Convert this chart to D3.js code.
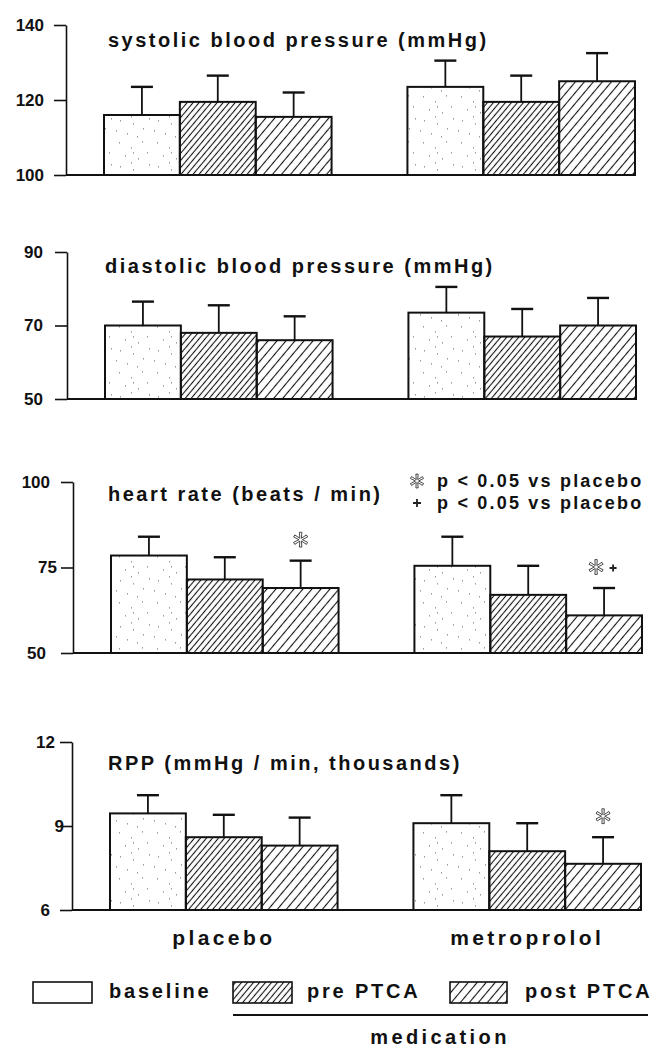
<!DOCTYPE html>
<html>
<head>
<meta charset="utf-8">
<script src="https://cdn.jsdelivr.net/npm/d3@7"></script>
<style>
  body { margin: 0; background: #fff; }
  text { font-family: "Liberation Sans", Arial, Helvetica, sans-serif; font-weight: bold; fill: #111; }
</style>
</head>
<body>
<svg id="chart" width="660" height="1048"></svg>
<script>
// ---- data -------------------------------------------------------------
const groups = ["placebo", "metroprolol"];
const phases = ["baseline", "pre PTCA", "post PTCA"];

const titles = [
  "systolic blood pressure (mmHg)",
  "diastolic blood pressure (mmHg)",
  "heart rate (beats / min)",
  "RPP (mmHg / min, thousands)"
];

// mean values per phase (baseline, pre PTCA, post PTCA)
const sysPlacebo  = [116, 119.5, 115.5];
const sysMetro    = [123.5, 119.5, 125];
const diaPlacebo  = [70, 68, 66];
const diaMetro    = [73.5, 67, 70];
const hrPlacebo   = [78.5, 71.5, 69];
const hrMetro     = [75.5, 67, 61];
const rppPlacebo  = [9.45, 8.6, 8.3];
const rppMetro    = [9.1, 8.1, 7.65];

// standard deviations (upper error bars)
const sysPlaceboSd = [7.5, 7, 6.5];
const sysMetroSd   = [7, 7, 7.5];
const diaPlaceboSd = [6.5, 7.5, 6.5];
const diaMetroSd   = [7, 7.5, 7.5];
const hrPlaceboSd  = [5.5, 6.5, 8];
const hrMetroSd    = [8.5, 8.5, 8];
const rppPlaceboSd = [0.65, 0.8, 1.0];
const rppMetroSd   = [1.0, 1.0, 0.95];

// axis ranges and tick labels
const yDomains = [[100, 140], [50, 90], [50, 100], [6, 12]];
const yTicks   = [[100, 120, 140], [50, 70, 90], [50, 75, 100], [6, 9, 12]];

// significance markers: panel index, group, phase, symbols
const sigMarks = [
  { panel: 2, group: "placebo",     phase: "post PTCA", star: true, plus: false },
  { panel: 2, group: "metroprolol", phase: "post PTCA", star: true, plus: true },
  { panel: 3, group: "metroprolol", phase: "post PTCA", star: true, plus: false }
];
const sigLegend = [
  { symbol: "star", text: "p < 0.05 vs placebo" },
  { symbol: "plus", text: "p < 0.05 vs placebo" }
];

const means = [
  { placebo: sysPlacebo, metroprolol: sysMetro },
  { placebo: diaPlacebo, metroprolol: diaMetro },
  { placebo: hrPlacebo,  metroprolol: hrMetro },
  { placebo: rppPlacebo, metroprolol: rppMetro }
];
const sds = [
  { placebo: sysPlaceboSd, metroprolol: sysMetroSd },
  { placebo: diaPlaceboSd, metroprolol: diaMetroSd },
  { placebo: hrPlaceboSd,  metroprolol: hrMetroSd },
  { placebo: rppPlaceboSd, metroprolol: rppMetroSd }
];

// ---- layout -----------------------------------------------------------
// labelEdge: right edge of each tick label (bottom, middle, top)
const frames = [
  { axisX: 66, top: 25,  bottom: 175, titleX: 108, titleY: 47,  labelEdge: [44, 44, 44] },
  { axisX: 67, top: 252, bottom: 399, titleX: 105, titleY: 273, labelEdge: [43, 43, 43] },
  { axisX: 73, top: 482, bottom: 653, titleX: 108, titleY: 501, labelEdge: [46, 57, 50] },
  { axisX: 72, top: 742, bottom: 910, titleX: 108, titleY: 770, labelEdge: [50, 64, 55] }
];

const svg = d3.select("#chart");
svg.append("rect").attr("width", 660).attr("height", 1048).attr("fill", "#fff");
const defs = svg.append("defs");

// diagonal hatching: rotated vertical lines
function hatch(id, gap, width) {
  const p = defs.append("pattern")
    .attr("id", id)
    .attr("patternUnits", "userSpaceOnUse")
    .attr("width", gap).attr("height", 20)
    .attr("patternTransform", "rotate(40)");
  p.append("line")
    .attr("x1", gap / 2).attr("x2", gap / 2)
    .attr("y1", -1).attr("y2", 21)
    .attr("stroke", "#111").attr("stroke-width", width);
}
hatch("hatchDense", 4.6, 1.1);
hatch("hatchWide", 6.9, 1.1);

// faint stipple for the baseline bars
const stip = defs.append("pattern")
  .attr("id", "stipple")
  .attr("patternUnits", "userSpaceOnUse")
  .attr("width", 38).attr("height", 46);
[[5, 4], [17, 9], [28, 3], [11, 17], [24, 20], [33, 14], [6, 28], [19, 31],
 [29, 36], [13, 41], [2, 38], [23, 44], [35, 26], [17, 24], [19, 14]]
  .forEach(([cx, cy]) => stip.append("rect")
    .attr("x", cx).attr("y", cy).attr("width", 1).attr("height", 1.6)
    .attr("fill", "#9a9a9a"));

const fills = {
  "baseline": "url(#stipple)",
  "pre PTCA": "url(#hatchDense)",
  "post PTCA": "url(#hatchWide)"
};

// open six-spoke asterisk drawn as one outlined shape
function drawStar(sel, cx, cy, r) {
  const pts = [];
  d3.range(6).forEach(k => {
    const a = (k * 60 - 90) * Math.PI / 180;
    const w = 0.16;
    pts.push([Math.cos(a - w) * r, Math.sin(a - w) * r]);
    pts.push([Math.cos(a + w) * r, Math.sin(a + w) * r]);
    const b = a + Math.PI / 6;
    pts.push([Math.cos(b) * r * 0.22, Math.sin(b) * r * 0.22]);
  });
  sel.append("path")
    .attr("transform", `translate(${cx},${cy})`)
    .attr("d", d3.line()(pts) + "Z")
    .attr("fill", "#fff").attr("stroke", "#333").attr("stroke-width", 0.9);
}
function drawPlus(sel, cx, cy, r) {
  sel.append("path")
    .attr("d", `M${cx - r},${cy}H${cx + r}M${cx},${cy - r}V${cy + r}`)
    .attr("stroke", "#222").attr("stroke-width", 1.8);
}

const scales = [];

frames.forEach((f, i) => {
  const g = svg.append("g");
  const y = d3.scaleLinear().domain(yDomains[i]).range([f.bottom, f.top]);
  const x0 = d3.scaleBand().domain(groups)
    .range([f.axisX + 38, f.axisX + 569]).paddingInner(0.25).paddingOuter(0);
  const x1 = d3.scaleBand().domain(phases).range([0, x0.bandwidth()]).padding(0);
  scales.push({ x0, x1, y });

  // y axis
  const ax = g.append("g")
    .attr("transform", `translate(${f.axisX},0)`)
    .call(d3.axisLeft(y).tickValues(yTicks[i]).tickFormat(d3.format("d"))
      .tickSize(12).tickSizeOuter(0).tickPadding(8));
  ax.select(".domain").attr("stroke", "#111").attr("stroke-width", 1.6);
  ax.selectAll(".tick line").attr("stroke", "#111").attr("stroke-width", 1.6);
  ax.selectAll(".tick text")
    .attr("x", (d, j) => f.labelEdge[j] - f.axisX)
    .style("font-family", "'Liberation Sans', Arial, sans-serif")
    .style("font-weight", "bold")
    .style("font-size", "17px")
    .attr("fill", "#111");

  // bars
  const rows = [];
  groups.forEach(gr => phases.forEach((ph, k) => rows.push({
    group: gr, phase: ph, mean: means[i][gr][k], sd: sds[i][gr][k]
  })));

  g.selectAll("rect.bar").data(rows).enter().append("rect")
    .attr("class", "bar")
    .attr("x", d => x0(d.group) + x1(d.phase))
    .attr("y", d => y(d.mean))
    .attr("width", x1.bandwidth())
    .attr("height", d => y(yDomains[i][0]) - y(d.mean))
    .attr("fill", d => fills[d.phase])
    .attr("stroke", "#111").attr("stroke-width", 2);

  // upper error bars
  const cx = d => x0(d.group) + x1(d.phase) + x1.bandwidth() / 2;
  g.selectAll("line.err").data(rows).enter().append("line")
    .attr("class", "err")
    .attr("x1", cx).attr("x2", cx)
    .attr("y1", d => y(d.mean)).attr("y2", d => y(d.mean + d.sd))
    .attr("stroke", "#111").attr("stroke-width", 1.8);
  g.selectAll("line.cap").data(rows).enter().append("line")
    .attr("class", "cap")
    .attr("x1", d => cx(d) - 11).attr("x2", d => cx(d) + 11)
    .attr("y1", d => y(d.mean + d.sd)).attr("y2", d => y(d.mean + d.sd))
    .attr("stroke", "#111").attr("stroke-width", 2.4);

  // x baseline
  g.append("line")
    .attr("x1", f.axisX).attr("x2", x0(groups[1]) + x0.bandwidth())
    .attr("y1", y(yDomains[i][0])).attr("y2", y(yDomains[i][0]))
    .attr("stroke", "#111").attr("stroke-width", 2);

  // panel title
  g.append("text")
    .attr("x", f.titleX).attr("y", f.titleY)
    .style("font-size", "20px").style("letter-spacing", "2.5px")
    .text(titles[i]);
});

// significance markers above error bars
sigMarks.forEach(m => {
  const s = scales[m.panel];
  const k = phases.indexOf(m.phase);
  const top = means[m.panel][m.group][k] + sds[m.panel][m.group][k];
  const cx = s.x0(m.group) + s.x1(m.phase) + s.x1.bandwidth() / 2;
  const cy = s.y(top) - 21;
  if (m.plus) {
    drawStar(svg, cx - 8, cy, 7.5);
    drawPlus(svg, cx + 9, cy + 1, 3.5);
  } else {
    drawStar(svg, cx, cy, 7.5);
  }
});

// significance legend
sigLegend.forEach((d, j) => {
  const yb = 487 + j * 22;
  if (d.symbol === "star") drawStar(svg, 417, yb - 6, 7);
  else drawPlus(svg, 417, yb - 6, 4);
  svg.append("text").attr("x", 437).attr("y", yb)
    .style("font-size", "18px").style("letter-spacing", "2.2px")
    .text(d.text);
});

// group labels under the bottom panel
const last = scales[3];
svg.selectAll("text.group").data(groups).enter().append("text")
  .attr("class", "group")
  .attr("x", d => last.x0(d) + last.x0.bandwidth() / 2)
  .attr("y", 945)
  .attr("text-anchor", "middle")
  .style("font-size", "21px").style("letter-spacing", "3.4px")
  .text(d => d);

// legend
const legendX = [33, 233, 450];
const legendW = [59, 59, 57];
const legendTextX = [109, 307, 525];
phases.forEach((ph, k) => {
  svg.append("rect")
    .attr("x", legendX[k]).attr("y", 982)
    .attr("width", legendW[k]).attr("height", 21)
    .attr("fill", ph === "baseline" ? "#fff" : fills[ph])
    .attr("stroke", "#111").attr("stroke-width", 1.6);
  svg.append("text")
    .attr("x", legendTextX[k]).attr("y", 998)
    .style("font-size", "20px").style("letter-spacing", "2.8px")
    .text(ph);
});

// bracket under the medication phases
svg.append("line")
  .attr("x1", 233).attr("x2", 648).attr("y1", 1015).attr("y2", 1015)
  .attr("stroke", "#111").attr("stroke-width", 2);
svg.append("text")
  .attr("x", 440).attr("y", 1044)
  .attr("text-anchor", "middle")
  .style("font-size", "20px").style("letter-spacing", "3.4px")
  .text("medication");
</script>
</body>
</html>
